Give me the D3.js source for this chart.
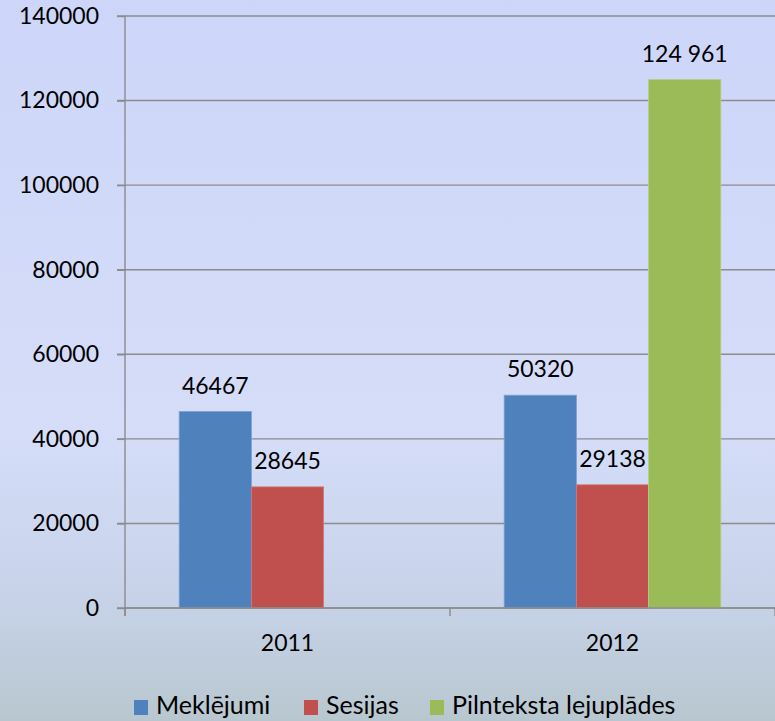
<!DOCTYPE html>
<html>
<head>
<meta charset="utf-8">
<script src="https://cdn.jsdelivr.net/npm/d3@7"></script>
<style>
  html, body { margin: 0; padding: 0; }
  body { width: 775px; height: 721px; overflow: hidden; }
  text { font-family: Lato, "Open Sans", sans-serif; fill: #000; }
</style>
</head>
<body>
<svg id="chart" width="775" height="721"></svg>
<script>
// ---- data ----
const categories = ["2011", "2012"];
const seriesNames = ["Meklējumi", "Sesijas", "Pilnteksta lejuplādes"];
const meklejumi = [46467, 50320];
const sesijas = [28645, 29138];
const pilnteksta = [null, 124961];
const yTicks = [0, 20000, 40000, 60000, 80000, 100000, 120000, 140000];
const seriesColors = ["#4f81bd", "#c0504d", "#9bbb59"];
const seriesStroke = ["#7aa0d2", "#d27a78", "#b4cf82"];

const seriesValues = [meklejumi, sesijas, pilnteksta];
const spaceFmt = v => d3.format(",d")(v).replace(/,/g, " ");
const labelFormats = [d3.format("d"), d3.format("d"), spaceFmt];

const W = 775, H = 721;
const NUM_FS = "23px", LEG_FS = "25px";
const svg = d3.select("#chart");

// background gradient
const defs = svg.append("defs");
const grad = defs.append("linearGradient").attr("id", "bg")
  .attr("x1", 0).attr("y1", 0).attr("x2", 0).attr("y2", 1);
grad.append("stop").attr("offset", "0%").attr("stop-color", "#cdd6f9");
grad.append("stop").attr("offset", "60%").attr("stop-color", "#d5ddf8");
grad.append("stop").attr("offset", "82%").attr("stop-color", "#c8d3ea");
grad.append("stop").attr("offset", "100%").attr("stop-color", "#b8c7cf");
svg.append("rect").attr("width", W).attr("height", H).attr("fill", "url(#bg)");

const plot = { left: 125, right: 775, top: 16, bottom: 608 };

const x0 = d3.scaleBand().domain(categories).range([plot.left, plot.right]).paddingInner(0).paddingOuter(0);
// gap width 150% -> 3 bars + 1.5 bar gap per category
const bw = x0.bandwidth() / (seriesNames.length + 1.5);
const x1 = d3.scaleBand().domain(d3.range(seriesNames.length))
  .range([bw * 0.75, bw * 0.75 + bw * seriesNames.length]);

const y = d3.scaleLinear().domain([0, 140000]).range([plot.bottom, plot.top]);

// gridlines
svg.append("g").selectAll("line").data(yTicks).join("line")
  .attr("x1", plot.left - 8).attr("x2", plot.right)
  .attr("y1", d => y(d)).attr("y2", d => y(d))
  .attr("stroke", "#8c8c8c").attr("stroke-width", 1.4);

// y axis
const yAxis = d3.axisLeft(y).tickValues(yTicks).tickSize(8).tickPadding(18).tickFormat(d3.format("d"));
const gy = svg.append("g").attr("transform", `translate(${plot.left},0)`).call(yAxis);
gy.select(".domain").attr("stroke", "#8c8c8c").attr("stroke-width", 1.4)
  .attr("d", `M0,${plot.top}V${plot.bottom + 8}`);
gy.selectAll(".tick line").attr("stroke", "#8c8c8c").attr("stroke-width", 1.4);
gy.selectAll(".tick text").style("font-family", "Lato, 'Open Sans', sans-serif")
  .style("font-size", NUM_FS).attr("fill", "#000");

// bars
const groups = svg.append("g").selectAll("g").data(categories).join("g")
  .attr("transform", d => `translate(${x0(d)},0)`);

const barData = (c, ci) => seriesValues.map((vals, si) => ({ si, v: vals[ci] })).filter(d => d.v != null);

groups.each(function(c, ci) {
  const g = d3.select(this);
  const data = barData(c, ci);
  g.selectAll("rect").data(data).join("rect")
    .attr("x", d => x1(d.si)).attr("width", x1.bandwidth())
    .attr("y", d => y(d.v)).attr("height", d => y(0) - y(d.v))
    .attr("fill", d => seriesColors[d.si])
    .attr("stroke", d => seriesStroke[d.si]).attr("stroke-width", 0.8);
  g.selectAll("text.lbl").data(data).join("text").attr("class", "lbl")
    .attr("x", d => x1(d.si) + x1.bandwidth() / 2)
    .attr("y", d => y(d.v) - 18)
    .attr("text-anchor", "middle")
    .style("font-size", NUM_FS)
    .text(d => labelFormats[d.si](d.v));
});

// x axis
const gx = svg.append("g");
gx.append("line").attr("x1", plot.left).attr("x2", plot.right)
  .attr("y1", plot.bottom).attr("y2", plot.bottom)
  .attr("stroke", "#8c8c8c").attr("stroke-width", 1.4);
const bounds = categories.map(c => x0(c)).concat([plot.right]);
gx.selectAll("line.tk").data(bounds).join("line").attr("class", "tk")
  .attr("x1", d => d).attr("x2", d => d)
  .attr("y1", plot.bottom).attr("y2", plot.bottom + 8)
  .attr("stroke", "#8c8c8c").attr("stroke-width", 1.4);
gx.selectAll("text").data(categories).join("text")
  .attr("x", d => x0(d) + x0.bandwidth() / 2)
  .attr("y", 651)
  .attr("text-anchor", "middle")
  .style("font-size", NUM_FS)
  .text(d => d);

// legend
const legendX = [134, 304, 430];
const lg = svg.append("g").selectAll("g").data(seriesNames).join("g")
  .attr("transform", (d, i) => `translate(${legendX[i]},700)`);
lg.append("rect").attr("width", 14).attr("height", 15).attr("fill", (d, i) => seriesColors[i]);
lg.append("text").attr("x", 22).attr("y", 14).style("font-size", LEG_FS).text(d => d);
</script>
</body>
</html>
